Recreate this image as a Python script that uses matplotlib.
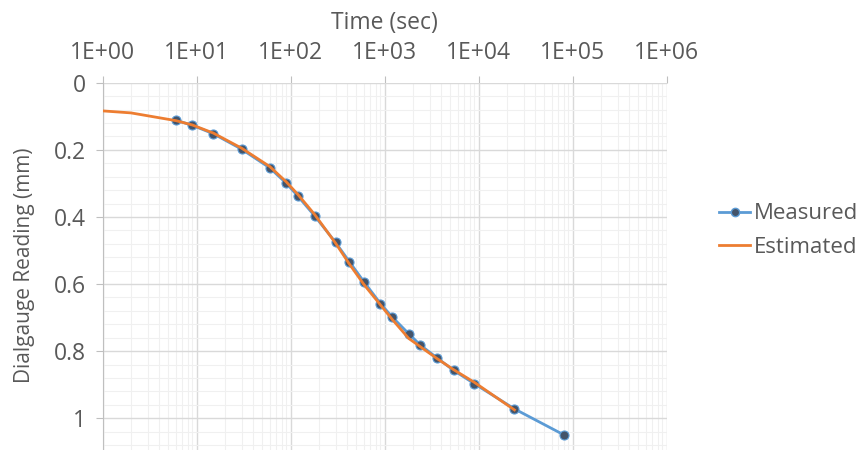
import matplotlib
matplotlib.use("Agg")
import matplotlib.pyplot as plt
from matplotlib.ticker import LogLocator, FixedLocator, NullFormatter
from matplotlib.lines import Line2D

# Data
measured_time = [6, 9, 15, 30, 60, 90, 120, 180, 300, 420, 600, 900, 1200,
                 1800, 2400, 3600, 5400, 9000, 24000, 80000]
measured_reading = [0.112, 0.127, 0.152, 0.198, 0.254, 0.300, 0.339, 0.397,
                    0.476, 0.533, 0.593, 0.658, 0.698, 0.748, 0.782, 0.820,
                    0.857, 0.897, 0.972, 1.049]
estimated_time = [1, 2, 6, 9, 15, 30, 60, 90, 120, 180, 300, 420, 600, 900,
                  1200, 1800, 2400, 3600, 5400, 9000, 24000]
estimated_reading = [0.084, 0.090, 0.113, 0.126, 0.150, 0.195, 0.250, 0.296,
                     0.334, 0.393, 0.478, 0.540, 0.601, 0.662, 0.705, 0.762,
                     0.787, 0.822, 0.855, 0.893, 0.975]
x_ticks = [1e0, 1e1, 1e2, 1e3, 1e4, 1e5, 1e6]
x_tick_labels = ["1E+00", "1E+01", "1E+02", "1E+03", "1E+04", "1E+05", "1E+06"]
y_ticks = [0, 0.2, 0.4, 0.6, 0.8, 1.0]
y_tick_labels = ["0", "0.2", "0.4", "0.6", "0.8", "1"]

plt.rcParams['font.family'] = ['Open Sans', 'DejaVu Sans']
TXT = "#595959"
FS = 16.5

fig = plt.figure(figsize=(8.67, 4.5), dpi=100)
W, H = 867, 450
left, right_px = 102.7, 666.7
top_px, bot_px = 82.7, 485.4
ax_w, ax_h = right_px - left, bot_px - top_px
ax = fig.add_axes([left / W, 1 - bot_px / H, ax_w / W, ax_h / H])

ax.set_xscale('log')
ax.set_xlim(1, 1e6)
ax.set_ylim(1.2, 0)

ax.xaxis.set_major_locator(FixedLocator(x_ticks))
ax.set_xticklabels(x_tick_labels)
ax.xaxis.set_minor_locator(LogLocator(base=10, subs=range(2, 10), numticks=20))
ax.xaxis.set_minor_formatter(NullFormatter())
ax.xaxis.tick_top()
ax.xaxis.set_label_position('top')

ax.set_yticks(y_ticks)
ax.set_yticklabels(y_tick_labels)
ax.set_yticks([i * 0.04 for i in range(31)], minor=True)

ax.grid(True, which='major', color='#D9D9D9', linewidth=1.0)
ax.grid(True, which='minor', color='#F0F0F0', linewidth=0.8)
ax.set_axisbelow(True)

for s in ['right', 'bottom', 'top']:
    ax.spines[s].set_visible(False)
ax.spines['left'].set_color('#BFBFBF')

ax.tick_params(axis='x', which='major', top=True, bottom=False, length=5,
               color='#BFBFBF', labelsize=FS, labelcolor=TXT, pad=7.5)
ax.tick_params(axis='x', which='minor', top=False, bottom=False)
ax.tick_params(axis='y', which='major', left=True, length=5, color='#BFBFBF',
               labelsize=FS, labelcolor=TXT, pad=7.3)
ax.tick_params(axis='y', which='minor', left=False)

ax.plot(measured_time, measured_reading, color='#5B9BD5', linewidth=2.0,
        marker='o', markersize=6.5, markerfacecolor='#44546A',
        markeredgecolor='#5B9BD5', markeredgewidth=0.8, zorder=3, label='Measured')
ax.plot(estimated_time, estimated_reading, color='#ED7D31', linewidth=2.0,
        zorder=4, label='Estimated')

ax.set_xlabel('Time (sec)', fontsize=FS, color=TXT, labelpad=9)
ax.set_ylabel('Dialgauge Reading (mm)', fontsize=15, color=TXT)
ax.yaxis.set_label_coords((35 - left) / ax_w, 1 - (265 - top_px) / ax_h)

handles = [Line2D([], [], color='#5B9BD5', linewidth=2.0, marker='o', markersize=6,
                  markerfacecolor='#44546A', markeredgecolor='#5B9BD5'),
           Line2D([], [], color='#ED7D31', linewidth=2.0)]
leg = fig.legend(handles, ['Measured', 'Estimated'], loc='center left',
                 bbox_to_anchor=(719 / W, 1 - 230.5 / H), frameon=False,
                 borderpad=0, borderaxespad=0,
                 fontsize=16, handlelength=1.4, handletextpad=0.15, labelspacing=0.55)
for t in leg.get_texts():
    t.set_color(TXT)

fig.savefig('out.png', dpi=100)
